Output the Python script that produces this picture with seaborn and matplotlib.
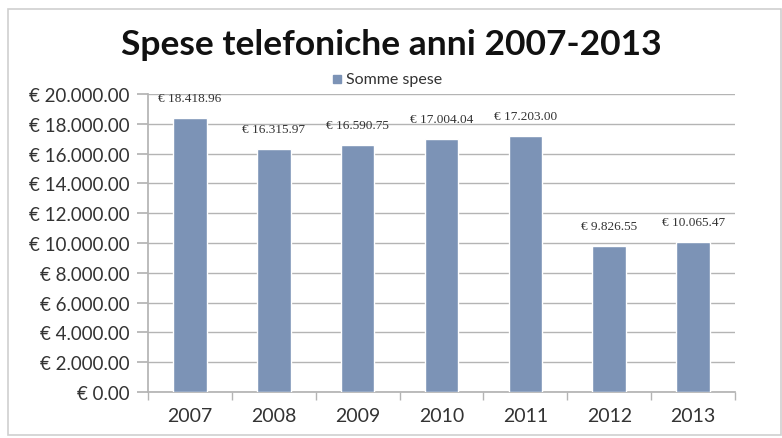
import matplotlib
matplotlib.use("Agg")
import matplotlib.pyplot as plt
import matplotlib.patches as mpatches
from matplotlib.ticker import FixedLocator, FuncFormatter
import seaborn as sns
import pandas as pd

# Phone expenses per year
anni = ["2007", "2008", "2009", "2010", "2011", "2012", "2013"]
somme_spese = [18418.96, 16315.97, 16590.75, 17004.04, 17203.00, 9826.55, 10065.47]
titolo = "Spese telefoniche anni 2007-2013"
serie = "Somme spese"

df = pd.DataFrame({"anno": anni, "spesa": somme_spese})

sns.set_theme(style="white")
plt.rcParams["font.family"] = ["Lato", "DejaVu Sans"]

BAR = "#7c93b6"
GRID = "#b4b4b4"
TXT = "#333333"


def euro(v):
    return "€ " + f"{v:,.2f}".replace(",", ".")


fig = plt.figure(figsize=(7.82, 4.39), dpi=100)
ax = fig.add_axes([148 / 782, 1 - 393 / 439, 587 / 782, 298 / 439])

sns.barplot(data=df, x="anno", y="spesa", color=BAR, width=0.4,
            saturation=1, ax=ax, zorder=3)

ax.set_ylim(0, 20000)
ax.set_xlim(-0.5, len(anni) - 0.5)
ax.yaxis.set_major_locator(FixedLocator(range(0, 20001, 2000)))
ax.yaxis.set_major_formatter(FuncFormatter(lambda v, p: euro(v)))
ax.grid(axis="y", color=GRID, lw=1, zorder=0)
ax.set_xlabel("")
ax.set_ylabel("")

for s in ["top", "right"]:
    ax.spines[s].set_visible(False)
ax.spines["left"].set_color(GRID)
ax.spines["bottom"].set_color(GRID)

ax.tick_params(axis="y", length=8, color=GRID, labelsize=13.5,
               labelcolor=TXT, pad=5, left=True)
ax.tick_params(axis="x", length=0, labelsize=14, labelcolor=TXT, pad=11)
ax.set_xticks([i - 0.5 for i in range(len(anni) + 1)], minor=True)
ax.tick_params(axis="x", which="minor", length=6, color=GRID, bottom=True)

# Value labels above each bar
for i, v in enumerate(somme_spese):
    ax.annotate(euro(v), (i, v), xytext=(0, 10), textcoords="offset points",
                ha="center", va="bottom", fontsize=9.5, color=TXT,
                family=["Liberation Serif", "DejaVu Serif"])

fig.text(0.5, 1 - 45 / 439, titolo, ha="center", va="center",
         fontsize=25.5, fontweight="bold", color="#111111")

# Legend entry above the plot area
fig.patches.append(mpatches.Rectangle((333 / 782, 1 - 84 / 439), 8 / 782, 8 / 439,
                                      transform=fig.transFigure, color=BAR))
fig.text(346 / 782, 1 - 80 / 439, serie, ha="left", va="center",
         fontsize=11.5, color=TXT)

# Chart frame
fig.patches.append(mpatches.Rectangle((8 / 782, 3 / 439), 773 / 782, 426 / 439,
                                      transform=fig.transFigure, fill=False,
                                      ec="#cfcfcf", lw=1.2))

fig.savefig("out.png", dpi=100)
